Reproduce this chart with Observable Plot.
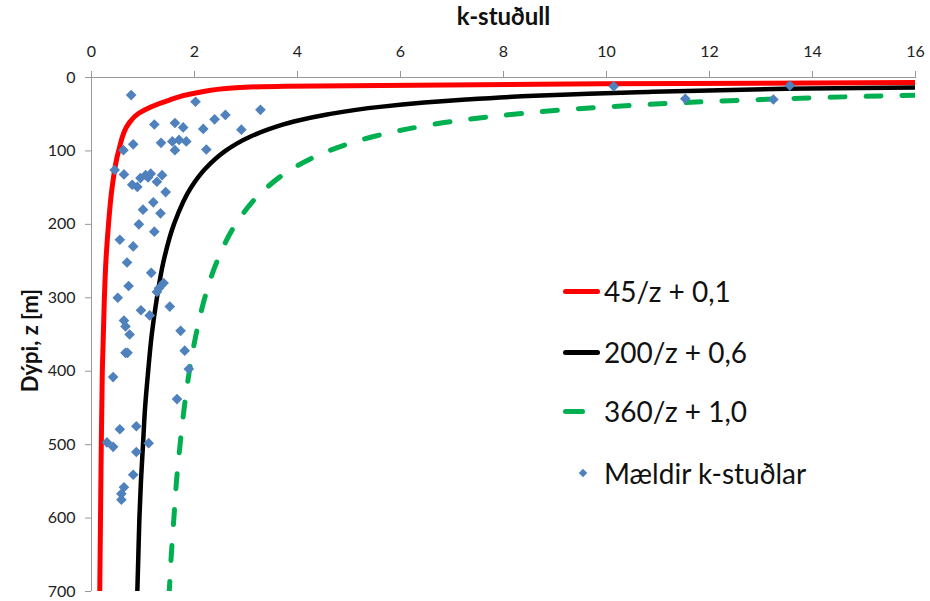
<!DOCTYPE html>
<html>
<head>
<meta charset="utf-8">
<script src="https://cdn.jsdelivr.net/npm/d3@7"></script>
<script src="https://cdn.jsdelivr.net/npm/@observablehq/plot@0.6"></script>
<style>
  body { margin: 0; background: #fff; }
  #wrap { position: relative; width: 930px; height: 601px; font-family: Lato, sans-serif; }
  .lg-line { position: absolute; height: 5px; border-radius: 2.5px; }
  .lg-text { position: absolute; font-size: 28px; color: #111; line-height: 1; transform: translateY(-50%); white-space: nowrap; }
  .lg-dia { position: absolute; width: 6px; height: 6px; background: #4f81bd; transform: rotate(45deg); }
</style>
</head>
<body>
<div id="wrap"></div>
<script>
// ---- data ----
const xTicks = [0, 2, 4, 6, 8, 10, 12, 14, 16];
const yTicks = [0, 100, 200, 300, 400, 500, 600, 700];
const xTitle = "k-stuðull";
const yTitle = "Dýpi, z [m]";

const seriesNames = ["45/z + 0,1", "200/z + 0,6", "360/z + 1,0", "Mældir k-stuðlar"];
const seriesColors = ["#ff0000", "#000000", "#00b050", "#4f81bd"];

// red curve (read along depth)
const redDepth = [6.5, 8.6, 11.8, 14, 21, 31, 49, 63, 99, 150, 200, 250, 300, 400, 500, 600, 700];
const redK     = [17, 9.9, 3.77, 2.8, 2.02, 1.5, 0.91, 0.72, 0.53, 0.4, 0.33, 0.28, 0.25, 0.21, 0.19, 0.175, 0.16];

// black and green curves (read along depth)
const curveDepth = [10, 15, 20, 25, 30, 40, 50, 60, 70, 80, 90, 100, 125, 150, 200, 250, 300, 350, 400, 450, 500, 550, 600, 650, 700];
const blackK = [20.6, 13.93, 10.6, 8.6, 7.27, 5.6, 4.6, 3.93, 3.46, 3.1, 2.82, 2.6, 2.2, 1.93, 1.6, 1.4, 1.27, 1.17, 1.1, 1.04, 1.0, 0.96, 0.93, 0.91, 0.89];
const greenK = [37, 25, 19, 15.4, 13, 10, 8.2, 7, 6.14, 5.5, 5, 4.6, 3.88, 3.4, 2.8, 2.44, 2.2, 2.03, 1.9, 1.8, 1.72, 1.65, 1.6, 1.55, 1.51];

// measured points
const measK = [0.77, 2.02, 3.28, 1.22, 1.62, 1.78, 2.17, 2.39, 2.60, 2.91, 0.81, 0.62, 1.35, 1.57, 1.70, 1.84, 1.62, 2.23,
  0.45, 0.63, 0.79, 0.89, 1.05, 1.15, 1.27, 1.37, 1.44, 1.20, 1.00, 1.34, 0.92, 1.22, 0.55, 0.81, 0.69, 1.16, 0.72, 1.40,
  1.31, 1.27, 0.51, 1.52, 0.96, 1.13, 0.63, 0.66, 0.74, 1.73, 0.66, 1.81, 1.89, 0.42, 1.66, 0.55, 0.87, 0.30, 0.42, 1.11,
  0.87, 0.81, 0.63, 0.58, 0.58, 10.14, 13.56, 11.53, 13.24, 0.95, 1.10, 0.70];
const measZ = [24, 33, 44, 64, 62, 68, 70, 57, 51, 71, 91, 99, 89, 87, 85, 87, 99, 98,
  126, 132, 146, 149, 133, 131, 142, 133, 156, 170, 180, 185, 200, 210, 221, 230, 252, 266, 284, 280,
  287, 292, 300, 312, 317, 324, 331, 339, 350, 345, 375, 372, 397, 408, 438, 479, 475, 497, 503, 498,
  510, 541, 558, 567, 575, 12, 11, 29, 30, 137, 136, 375];

// ---- build ----
const redData = redDepth.map((z, i) => ({z, k: redK[i]}));
const mk = (ks) => curveDepth.map((z, i) => ({z, k: ks[i]}));
const meas = measK.map((k, i) => ({k, z: measZ[i]}));

const chart = Plot.plot({
  width: 930,
  height: 601,
  marginLeft: 91,
  marginRight: 15,
  marginTop: 77,
  marginBottom: 10,
  style: {fontFamily: "Lato, sans-serif", fontSize: "16px", color: "#222", background: "white"},
  x: {domain: [0, 16]},
  y: {domain: [0, 700], reverse: true},
  marks: [
    Plot.axisX(xTicks, {anchor: "top", tickSize: 7, tickPadding: 14, stroke: "#999", label: null}),
    Plot.axisY(yTicks, {anchor: "left", tickSize: 6, tickPadding: 10, stroke: "#999", label: null}),
    Plot.ruleY([0], {stroke: "#999"}),
    Plot.ruleX([0], {stroke: "#999"}),
    Plot.line(redData, {x: "k", y: "z", stroke: seriesColors[0], strokeWidth: 5, curve: "monotone-y", clip: true}),
    Plot.line(mk(blackK), {x: "k", y: "z", stroke: seriesColors[1], strokeWidth: 4.5, curve: "monotone-y", clip: true}),
    Plot.line(mk(greenK), {x: "k", y: "z", stroke: seriesColors[2], strokeWidth: 5, strokeDasharray: "15,21", strokeLinecap: "round", curve: "monotone-y", clip: true}),
    Plot.dot(meas, {x: "k", y: "z", symbol: "diamond2", r: 4.8, fill: seriesColors[3], stroke: null}),
    Plot.text([xTitle], {frameAnchor: "top", dy: -60, lineAnchor: "middle", fontWeight: "bold", fontSize: 24, fill: "#111"}),
    Plot.text([yTitle], {frameAnchor: "left", dx: -61, dy: 6, rotate: -90, textAnchor: "middle", lineAnchor: "middle", fontWeight: "bold", fontSize: 22, fill: "#111"})
  ]
});

const wrap = document.getElementById("wrap");
wrap.appendChild(chart);

// ---- legend (inside plot area) ----
const legendRows = [
  {type: "line", color: seriesColors[0], name: seriesNames[0], y: 291, x0: 563, w: 37},
  {type: "line", color: seriesColors[1], name: seriesNames[1], y: 352, x0: 563, w: 37},
  {type: "line", color: seriesColors[2], name: seriesNames[2], y: 411, x0: 563, w: 22},
  {type: "dot",  color: seriesColors[3], name: seriesNames[3], y: 473, x0: 580, w: 0}
];
legendRows.forEach(r => {
  if (r.type === "line") {
    const d = document.createElement("div");
    d.className = "lg-line";
    d.style.left = r.x0 + "px";
    d.style.top = (r.y - 2.5) + "px";
    d.style.width = r.w + "px";
    d.style.background = r.color;
    wrap.appendChild(d);
  } else {
    const d = document.createElement("div");
    d.className = "lg-dia";
    d.style.left = r.x0 + "px";
    d.style.top = (r.y - 3) + "px";
    d.style.background = r.color;
    wrap.appendChild(d);
  }
  const t = document.createElement("div");
  t.className = "lg-text";
  t.style.left = "604px";
  t.style.top = r.y + "px";
  t.textContent = r.name;
  wrap.appendChild(t);
});
</script>
</body>
</html>
